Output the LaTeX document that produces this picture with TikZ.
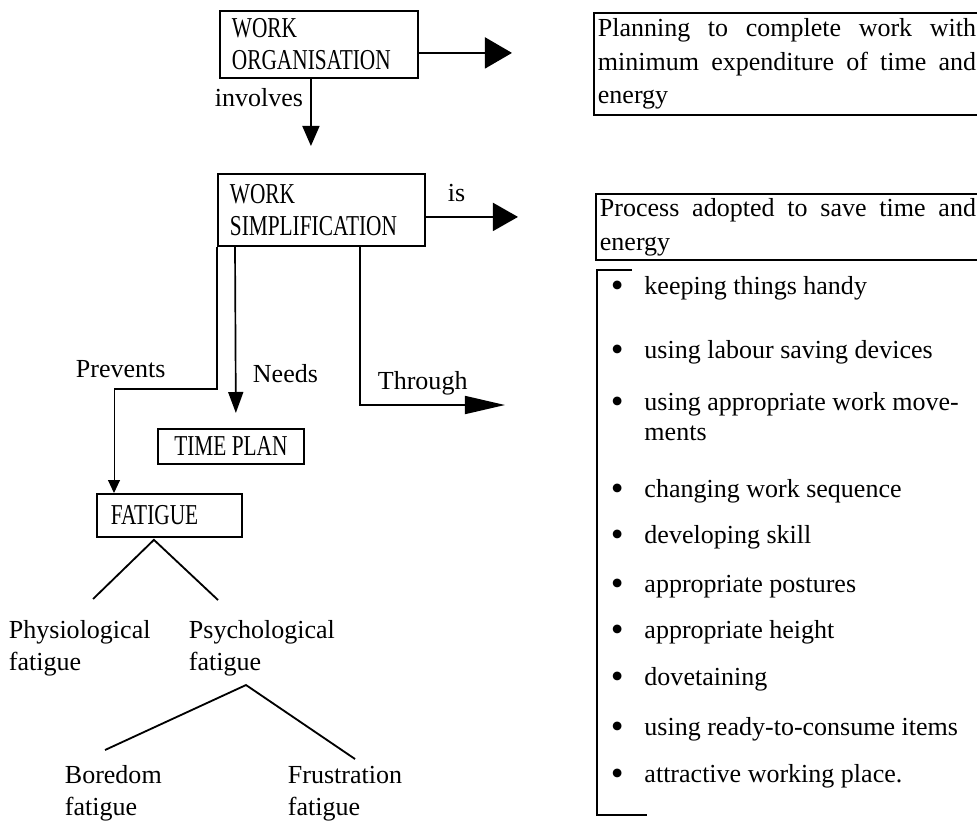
\documentclass[tikz,border=0pt]{standalone}
\usepackage{fontspec}
\setmainfont{Liberation Serif}
\newfontfamily\capfont[FakeStretch=0.74]{Liberation Serif}
\usetikzlibrary{arrows.meta}
\newcommand{\bul}{\raisebox{-2.5pt}{\scalebox{1.4}{\textbullet}}\hspace{0.52cm}}
\tikzset{every node/.style={inner sep=0pt}}
\tikzset{box/.style={draw,line width=1.3pt,anchor=north west,inner xsep=0.3cm,align=left,font=\capfont\fontsize{20.5}{22.7}\selectfont}}
\tikzset{txt/.style={draw,line width=1.3pt,anchor=north west,inner xsep=0.1cm,align=justify}}
\tikzset{l/.style={anchor=base west}}
\tikzset{br/.style={anchor=north west,align=left,font=\fontsize{18.5}{22.7}\selectfont}}
\tikzset{item/.style={anchor=base west}}
\tikzset{a/.style 2 args={line width=1.2pt,-{Triangle[length=#1,width=#2]}}}

\begin{document}
\begin{tikzpicture}[x=0.025cm,y=-0.025cm,line width=1.3pt,font=\fontsize{18.5}{24}\selectfont]
      \useasboundingbox (0,0) rectangle (977,823);
      % boxes
      \node[box,text width=4.35cm,minimum height=1.675cm] (wo) at (219,10) {WORK\\ORGANISATION};
      \node[txt,text width=9.45cm,minimum height=2.55cm] (pl) at (593,12) {Planning to complete work with\linebreak minimum expenditure of time and\linebreak energy};
      \node[box,text width=4.575cm,minimum height=1.8cm] (ws) at (217,173) {WORK\\SIMPLIFICATION};
      \node[txt,text width=9.4cm,minimum height=1.65cm] (df) at (595,193) {Process adopted to save time and\linebreak energy};
      \node[box,minimum width=3.65cm,minimum height=0.875cm,inner xsep=0pt] (tp) at (157,428) {TIME PLAN};
      \node[box,text width=2.925cm,inner xsep=0.35cm,minimum height=1.075cm] (fat) at (96,493) {FATIGUE};
      % labels
      \node[l,anchor=base east] (inv) at (304,106) {involves};
      \node[l] (is) at (447,201) {is};
      \node[l] (prv) at (75,377) {Prevents};
      \node[l] (nds) at (252,382) {Needs};
      \node[l] (thg) at (377,389) {Through};
      % fatigue tree
      \node[br] (phy) at (8,620) {Physiological\\fatigue};
      \node[br] (psy) at (188,620) {Psychological\\fatigue};
      \node[br] (bor) at (64,765) {Boredom\\fatigue};
      \node[br] (fru) at (287,765) {Frustration\\fatigue};
      % list of ways
      \coordinate (pv) at (114,389);
      \coordinate (thr) at (597,405);
      \draw (632,270) -| (thr) |- (647,815);
      \node[item] (i1) at (610,294) {\bul keeping things handy};
      \node[item] (i2) at (610,358) {\bul using labour saving devices};
      \node[item,align=left,font=\fontsize{18.5}{21.3}\selectfont] (i3) at (610,440) {\bul using appropriate work move-\\\phantom{\bul}ments};
      \node[item] (i4) at (610,497) {\bul changing work sequence};
      \node[item] (i5) at (610,543) {\bul developing skill};
      \node[item] (i6) at (610,592) {\bul appropriate postures};
      \node[item] (i7) at (610,638) {\bul appropriate height};
      \node[item] (i8) at (610,685) {\bul dovetaining};
      \node[item] (i9) at (610,735) {\bul using ready-to-consume items};
      \node[item] (i10) at (610,782) {\bul attractive working place.};
      % connectors
      \draw[a={0.675cm}{0.775cm},shorten >=2.025cm] ([yshift=-0.2125cm]wo.east) -- ([yshift=0.275cm]pl.west);
      \draw[a={0.5cm}{0.425cm},shorten >=0.675cm] ([xshift=-0.2cm]wo.south) -- ([xshift=-0.2625cm]ws.north);
      \draw[a={0.625cm}{0.7cm},shorten >=1.925cm] ([yshift=-0.175cm]ws.east) -- ([yshift=0.25cm]df.west);
      \draw[a={0.525cm}{0.375cm},shorten >=0.375cm] ([xshift=0.45cm]ws.south west) -- ([xshift=0.125cm]tp.north);
      \draw (ws.south west) |- (pv);
      \draw[a={0.325cm}{0.3cm},line width=0.7pt] (pv) -- (pv |- fat.north);
      \draw[a={1cm}{0.45cm},shorten >=2.3cm] ([xshift=3.575cm]ws.south west) |- (thr);
      \draw ([xshift=2.125cm,yshift=0.525cm]phy.north west) -- ([xshift=-0.3875cm,yshift=-0.05cm]fat.south) -- ([xshift=0.75cm,yshift=0.5cm]psy.north west);
      \draw ([xshift=1.025cm,yshift=0.375cm]bor.north west) -- ([xshift=1.45cm,yshift=-1.625cm]psy.north west) -- ([xshift=1.7cm,yshift=0.15cm]fru.north west);
\end{tikzpicture}
\end{document}
